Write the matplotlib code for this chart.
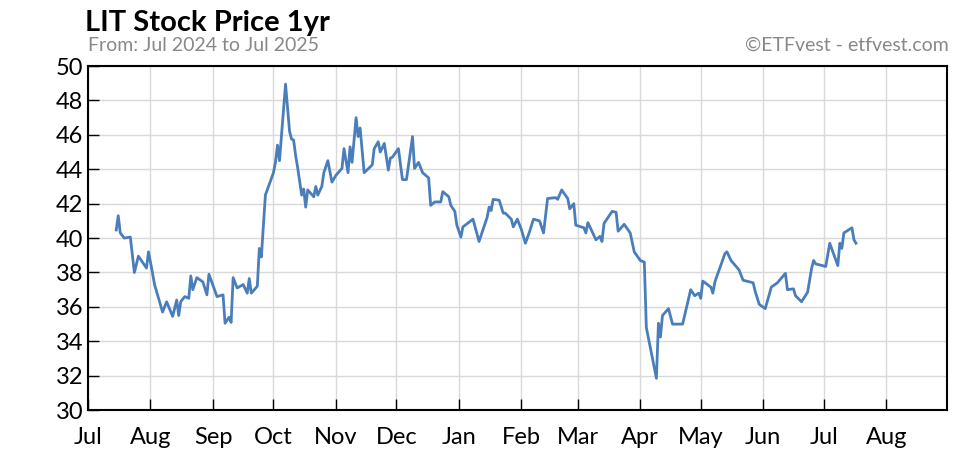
import numpy as np
import matplotlib
matplotlib.use("Agg")
import matplotlib.pyplot as plt

days = [14,15,16,18,21,23,25,29,30,32,33,37,39,42,44,45,46,48,50,51,52,54,57,59,60,64,67,68,70,71,72,74,77,79,80,81,84,85,86,88,92,93,94,95,98,100,101,102,103,104,106,107,108,109,112,113,114,116,117,119,121,123,126,127,129,130,131,133,134,135,137,141,142,144,145,147,149,150,151,154,156,158,161,162,164,166,169,170,172,175,176,179,180,182,183,185,186,191,194,196,198,199,200,201,204,206,207,210,211,213,215,217,
        219,221,224,226,228,232,233,235,238,239,241,242,246,247,248,252,254,255,256,260,262,263,266,269,271,274,276,277,282,283,284,285,288,290,295,299,301,303,304,305,309,310,311,316,317,319,323,325,330,331,333,336,339,342,346,347,350,351,354,357,359,360,361,366,368,372,373,374,375,379,380,381]
prices = [40.47,41.3,40.3,40.0,40.06,38.0,38.95,38.26,39.2,37.97,37.3,35.7,36.3,35.45,36.4,35.5,36.3,36.6,36.5,37.8,37.0,37.7,37.45,36.7,37.9,36.6,36.7,35.05,35.4,35.1,37.7,37.1,37.3,36.8,37.65,36.8,37.2,39.4,38.9,42.5,43.8,44.4,45.4,44.5,48.95,46.2,45.75,45.7,44.8,44.1,42.5,42.85,41.8,42.8,42.4,43.0,42.5,43.0,43.8,44.5,43.25,43.65,44.05,45.2,43.8,45.3,44.4,47.0,45.9,46.4,43.8,44.25,45.2,45.6,45.0,45.5,43.95,44.65,44.7,45.2,43.4,43.4,45.9,44.05,44.4,43.8,43.5,41.9,42.1,42.1,42.7,42.4,41.9,41.55,40.75,40.06,40.65,41.1,39.8,40.5,41.2,41.8,41.6,42.25,42.2,41.45,41.45,41.1,40.65,41.1,40.5,39.7,
          40.35,41.1,41.0,40.3,42.3,42.35,42.25,42.8,42.3,41.7,42.0,40.75,40.6,40.3,40.9,39.9,40.1,39.8,40.85,41.55,41.5,40.4,40.8,40.3,39.2,38.7,38.6,34.8,31.85,35.05,34.25,35.5,35.9,35.0,35.0,37.0,36.65,36.8,36.5,37.5,37.15,36.8,37.45,39.1,39.2,38.7,38.15,37.55,37.4,36.9,36.15,35.9,37.15,37.4,37.95,37.0,37.05,36.65,36.3,36.85,38.25,38.7,38.5,38.35,39.7,38.4,39.7,39.4,40.3,40.6,39.9,39.7]
yticks = list(range(30, 51, 2))
month_labels = ["Jul","Aug","Sep","Oct","Nov","Dec","Jan","Feb","Mar","Apr","May","Jun","Jul","Aug"]

plt.rcParams['font.family'] = ['Lato', 'DejaVu Sans']
dates = np.datetime64('2024-07-01') + np.array(days).astype('timedelta64[D]')
months = np.arange(np.datetime64('2024-07'), np.datetime64('2025-09'), dtype='datetime64[M]').astype('datetime64[D]')

fig = plt.figure(figsize=(9.65, 4.65), dpi=100)
ax = fig.add_axes([0.0912, 0.118, 0.8898, 0.740])
ax.plot(dates, prices, color='#4a7ebb', lw=2)
ax.set_xlim(np.datetime64('2024-07-01'), np.datetime64('2025-08-31'))
ax.set_ylim(30, 50)
ax.set_yticks(yticks)
ax.set_xticks(months)
ax.set_xticklabels(month_labels)
ax.grid(True, color='#d9d9d9', lw=1)
ax.set_axisbelow(True)
for s in ax.spines.values():
    s.set_linewidth(1.5)
ax.tick_params(direction='in', length=8, labelsize=17, width=1)
ax.tick_params(axis='x', pad=12)
fig.text(0.088, 0.978, "LIT Stock Price 1yr", fontsize=21, fontweight='bold', va='top')
fig.text(0.091, 0.903, "From: Jul 2024 to Jul 2025", fontsize=14, color='#888888', va='center')
fig.text(0.983, 0.903, "©ETFvest - etfvest.com", fontsize=14, color='#888888', va='center', ha='right')
fig.savefig('out.png', dpi=100)
